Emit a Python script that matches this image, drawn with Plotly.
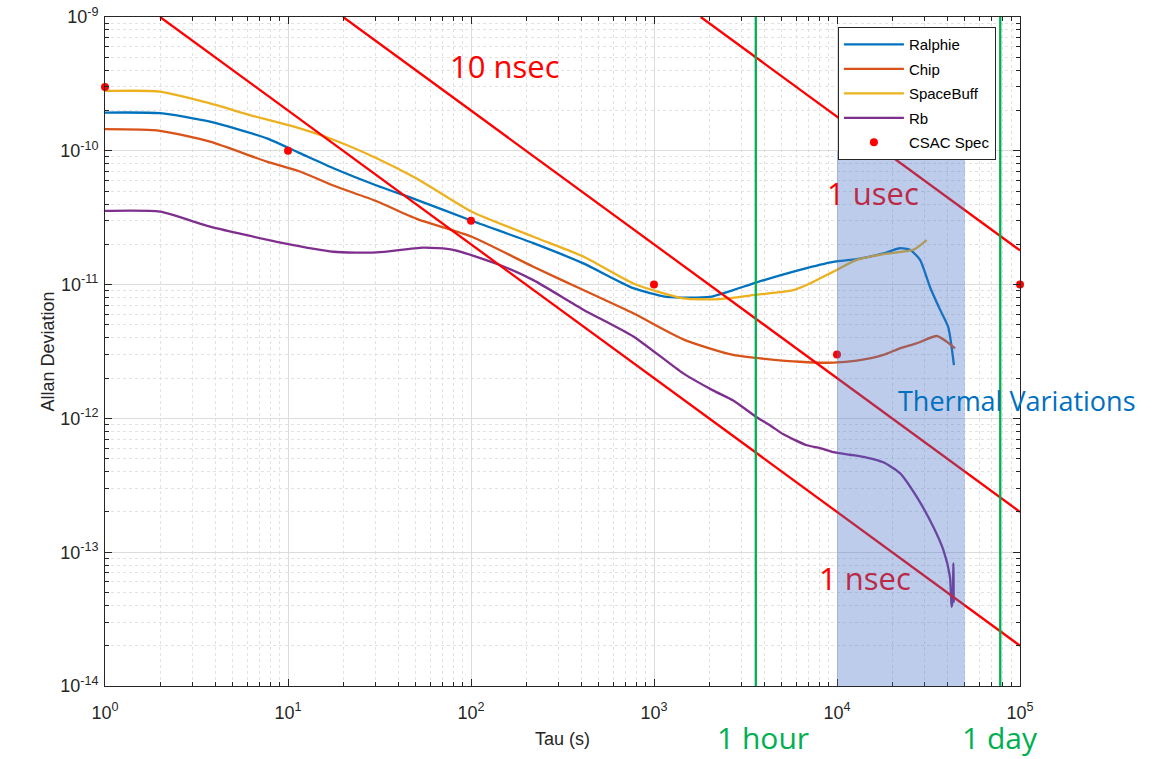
import numpy as np
import plotly.graph_objects as go

# ---------------- data ----------------
ralphie_tau = [1, 2, 3.75, 7.66, 11.6, 17.7, 30.5, 50.5, 101, 219, 411, 771, 1172, 2023, 2710,
               3640, 6281, 9550, 12820, 17910, 22080, 25060, 28440, 32210, 36560, 40550, 43550]
ralphie_adev = [1.93e-10, 1.91e-10, 1.65e-10, 1.24e-10, 9.6e-11, 7.4e-11, 5.5e-11, 4.3e-11, 3.0e-11,
                2.04e-11, 1.44e-11, 9.4e-12, 8.1e-12, 8.1e-12, 9.1e-12, 1.04e-11, 1.29e-11, 1.48e-11,
                1.55e-11, 1.71e-11, 1.87e-11, 1.82e-11, 1.53e-11, 9.6e-12, 6.5e-12, 4.8e-12, 2.5e-12]

chip_tau = [1, 2, 3.75, 7.66, 11.6, 17.7, 30.5, 50.5, 101, 219, 411, 771, 1445, 2710, 6281, 9550,
            12820, 17910, 22080, 27230, 35080, 39810, 44160]
chip_adev = [1.45e-10, 1.41e-10, 1.17e-10, 8.3e-11, 7.0e-11, 5.5e-11, 4.2e-11, 3.1e-11, 2.28e-11,
             1.36e-11, 9.1e-12, 6.1e-12, 3.9e-12, 2.98e-12, 2.65e-12, 2.61e-12, 2.70e-12, 2.98e-12,
             3.34e-12, 3.64e-12, 4.13e-12, 3.74e-12, 3.34e-12]

spacebuff_tau = [1, 2, 3.75, 6.19, 11.6, 17.7, 30.5, 50.5, 101, 219, 411, 771, 1445, 2296, 3640,
                 5768, 7112, 9550, 12820, 17910, 26120, 30900]
spacebuff_adev = [2.80e-10, 2.77e-10, 2.26e-10, 1.85e-10, 1.47e-10, 1.21e-10, 8.8e-11, 6.2e-11,
                  3.5e-11, 2.28e-11, 1.62e-11, 1.02e-11, 7.9e-12, 7.8e-12, 8.4e-12, 9.1e-12,
                  1.02e-11, 1.25e-11, 1.53e-11, 1.69e-11, 1.82e-11, 2.15e-11]

rb_tau = [1, 2, 3.75, 9.42, 17.7, 30.5, 54.8, 80, 144, 219, 411, 771, 1445, 2100, 2710, 3640,
          4300, 5093, 6840, 8072, 9550, 11780, 14520, 17910, 22080, 27230, 33570, 38110, 41400,
          42270, 42850, 43250, 43450]
rb_adev = [3.56e-11, 3.51e-11, 2.71e-11, 2.04e-11, 1.76e-11, 1.74e-11, 1.89e-11, 1.82e-11, 1.40e-11,
           1.08e-11, 6.5e-12, 4.1e-12, 2.17e-12, 1.62e-12, 1.36e-12, 1.02e-12, 8.9e-13, 7.6e-13,
           6.3e-13, 6.0e-13, 5.6e-13, 5.35e-13, 5.1e-13, 4.7e-13, 3.9e-13, 2.6e-13, 1.55e-13,
           1.04e-13, 6.6e-14, 3.9e-14, 4.4e-14, 8.3e-14, 4.2e-14]

csac_tau = [1, 10, 100, 1000, 1e4, 1e5]
csac_adev = [3e-10, 1e-10, 3e-11, 1e-11, 3e-12, 1e-11]

# time-error reference lines (slope -1), endpoints
ref_1nsec_tau = [2, 1e5]
ref_1nsec_adev = [1e-9, 2e-14]
ref_10nsec_tau = [20, 1e5]
ref_10nsec_adev = [1e-9, 2e-13]
ref_1usec_tau = [1800, 1e5]
ref_1usec_adev = [1e-9, 1.8e-11]

hour_tau = 3600
day_tau = 78000
thermal_tau = [1e4, 5e4]
thermal_adev = [1e-14, 1e-10]

x_ticks = [1, 10, 100, 1e3, 1e4, 1e5]
x_ticktext = ['10<sup>0</sup>', '10<sup>1</sup>', '10<sup>2</sup>', '10<sup>3</sup>',
              '10<sup>4</sup>', '10<sup>5</sup>']
y_ticks = [1e-14, 1e-13, 1e-12, 1e-11, 1e-10, 1e-9]
y_ticktext = ['10<sup>-14</sup>', '10<sup>-13</sup>', '10<sup>-12</sup>', '10<sup>-11</sup>',
              '10<sup>-10</sup>', '10<sup>-9</sup>']

# ---------------- figure ----------------
BLUE = '#0072BD'
ORANGE = '#D95319'
YELLOW = '#EDB120'
PURPLE = '#7E2F8E'
RED = '#FF0000'
GREEN = '#00B050'
AX = '#262626'

fig = go.Figure()

series = [
    ('Ralphie', ralphie_tau, ralphie_adev, BLUE),
    ('Chip', chip_tau, chip_adev, ORANGE),
    ('SpaceBuff', spacebuff_tau, spacebuff_adev, YELLOW),
    ('Rb', rb_tau, rb_adev, PURPLE),
]
for i, (name, t, a, c) in enumerate(series):
    fig.add_trace(go.Scatter(x=t, y=a, name=name, mode='lines',
                             line=dict(color=c, width=2.3, shape='spline', smoothing=0.6),
                             legendgroup=f'g{i}'))

fig.add_trace(go.Scatter(x=csac_tau, y=csac_adev, name='CSAC Spec', mode='markers',
                         marker=dict(color=RED, size=8), cliponaxis=False, legendgroup='g5'))

for t, a in [(ref_1nsec_tau, ref_1nsec_adev), (ref_10nsec_tau, ref_10nsec_adev),
             (ref_1usec_tau, ref_1usec_adev)]:
    fig.add_trace(go.Scatter(x=t, y=a, mode='lines', line=dict(color=RED, width=2.3),
                             showlegend=False, hoverinfo='skip'))

for t in [hour_tau, day_tau]:
    fig.add_trace(go.Scatter(x=[t, t], y=[1e-14, 1e-9], mode='lines',
                             line=dict(color=GREEN, width=2.3), showlegend=False,
                             hoverinfo='skip'))

# labels drawn as text traces so the shaded box tints them like the original
fig.add_trace(go.Scatter(x=[153, 15700, 14200], y=[4.0e-10, 4.5e-11, 6.0e-14],
                         text=['10 nsec', '1 usec', '1 nsec'], mode='text',
                         textfont=dict(family='Open Sans', size=31, color=RED),
                         showlegend=False, hoverinfo='skip', cliponaxis=False))

fig.add_shape(type='rect', xref='x', yref='y', x0=thermal_tau[0], x1=thermal_tau[1],
              y0=thermal_adev[0], y1=thermal_adev[1], fillcolor='rgb(68,114,196)',
              opacity=0.36, line_width=0, layer='above')

fig.add_annotation(x=np.log10(96400), y=np.log10(1.35e-12), xref='x', yref='y',
                   text='Thermal Variations', showarrow=False,
                   font=dict(family='Open Sans', size=27, color='#0070C0'))
fig.add_annotation(x=np.log10(hour_tau) + 0.04, y=-0.077, xref='x', yref='paper',
                   yanchor='middle', xanchor='center',
                   text='1 hour', showarrow=False,
                   font=dict(family='Open Sans', size=30, color=GREEN))
fig.add_annotation(x=np.log10(day_tau) + 0.0, y=-0.077, xref='x', yref='paper',
                   yanchor='middle', xanchor='center',
                   text='1 day', showarrow=False,
                   font=dict(family='Open Sans', size=30, color=GREEN))

axis_common = dict(
    type='log', showline=True, linecolor=AX, linewidth=1, mirror='ticks',
    ticks='inside', ticklen=7, tickcolor=AX, showgrid=True, gridcolor='#DCDCDC',
    gridwidth=1, zeroline=False, automargin=False,
    tickfont=dict(family='Liberation Sans', size=18, color=AX),
    title_font=dict(family='Liberation Sans', size=18, color=AX),
)

minor_x = [k * 10 ** n for n in range(5) for k in range(2, 10)]
minor_y = [k * 10.0 ** n for n in range(-14, -9) for k in range(2, 10)]

fig.update_xaxes(**axis_common, range=[0, 5], tickmode='array', tickvals=x_ticks,
                 ticktext=x_ticktext, title_text='Tau (s)', title_standoff=10,
                 ticklabelstandoff=10,
                 minor=dict(tickmode='array', tickvals=minor_x, ticks='inside', ticklen=4,
                            tickcolor=AX, showgrid=True, gridcolor='#E2E2E2',
                            griddash='3px,3px'))
fig.update_yaxes(**axis_common, range=[-14, -9], tickmode='array', tickvals=y_ticks,
                 ticktext=y_ticktext, title_text='Allan Deviation', title_standoff=0,
                 ticklabelstandoff=2,
                 minor=dict(tickmode='array', tickvals=minor_y, ticks='inside', ticklen=4,
                            tickcolor=AX, showgrid=True, gridcolor='#E2E2E2',
                            griddash='3px,3px'))

fig.update_layout(
    width=1171, height=759,
    margin=dict(l=105, r=151, t=17, b=73),
    paper_bgcolor='white', plot_bgcolor='white',
    showlegend=True,
    legend=dict(x=0.801, y=0.985, xanchor='left', yanchor='top', bgcolor='white',
                bordercolor=AX, borderwidth=1, itemwidth=60, tracegroupgap=2,
                font=dict(family='Liberation Sans', size=15, color='black')),
)

fig.write_html('out.html', config={'displayModeBar': False},
               post_script="document.body.style.margin='0';document.body.style.overflow='hidden';")
